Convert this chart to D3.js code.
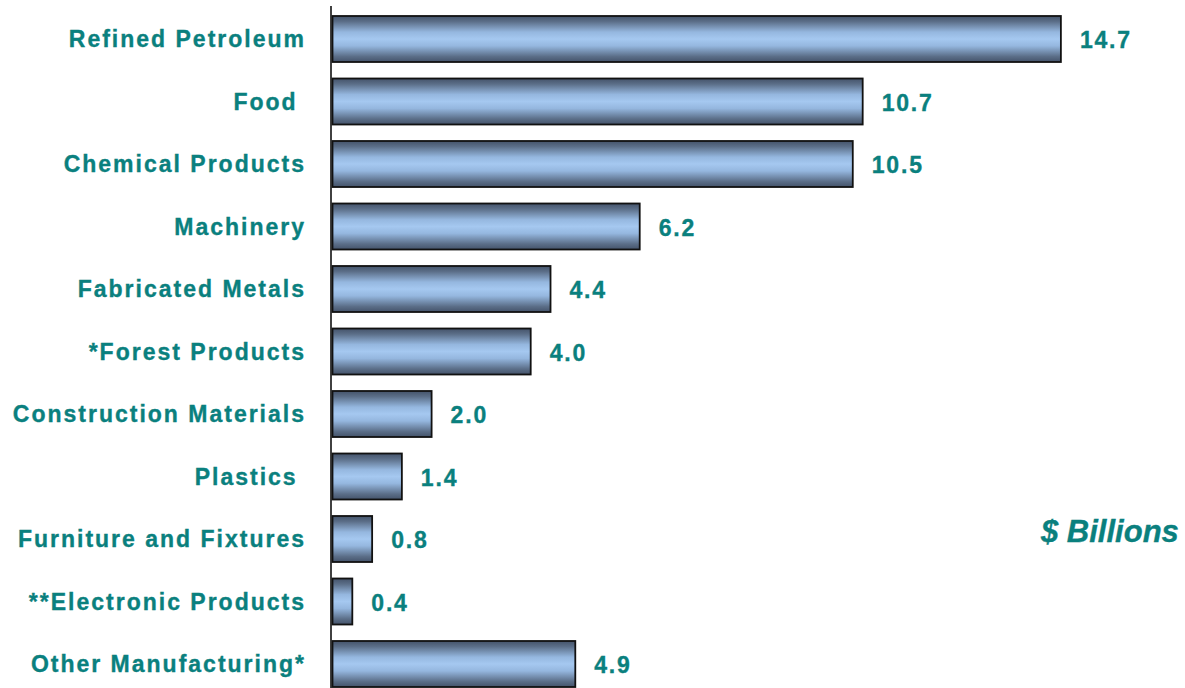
<!DOCTYPE html>
<html><head><meta charset="utf-8">
<script src="https://cdn.jsdelivr.net/npm/d3@7"></script>
<style>
html,body{margin:0;padding:0;background:#fff;}
svg{display:block;}
text{font-family:"Liberation Sans",Arial,sans-serif;font-weight:bold;fill:#0a807e;white-space:pre;stroke:#0a807e;stroke-width:0.35px;}
</style></head>
<body>
<svg id="chart" width="1185" height="688"></svg>
<script>
const categories = ["Refined Petroleum","Food ","Chemical Products","Machinery","Fabricated Metals","*Forest Products","Construction Materials","Plastics ","Furniture and Fixtures","**Electronic Products","Other Manufacturing*"];
const values = [14.7,10.7,10.5,6.2,4.4,4.0,2.0,1.4,0.8,0.4,4.9];
const valueLabels = ["14.7","10.7","10.5","6.2","4.4","4.0","2.0","1.4","0.8","0.4","4.9"];
const unitLabel = "$ Billions";

const svg = d3.select("#chart");
const W = 1185, H = 688;

const x = d3.scaleLinear().domain([0,15]).range([332.5, 332.5 + 49.55*15]);
const p = 0.264;
const y = d3.scaleBand().domain(categories).range([7.75, 695.25]).paddingInner(p).paddingOuter(p/2);

const defs = svg.append("defs");
const g = defs.append("linearGradient").attr("id","barGrad").attr("x1",0).attr("y1",0).attr("x2",0).attr("y2",1);
[[0,"#44536a"],[0.12,"#5b6e88"],[0.35,"#95b7df"],[0.5,"#a5c8f0"],[0.65,"#95b7df"],[0.88,"#5b6e88"],[1,"#44536a"]]
  .forEach(([o,c])=>g.append("stop").attr("offset",o).attr("stop-color",c));

svg.selectAll("rect.bar").data(values).join("rect")
  .attr("class","bar")
  .attr("x", x(0))
  .attr("y", (d,i)=>y(categories[i]))
  .attr("width", d=>x(d)-x(0))
  .attr("height", y.bandwidth())
  .attr("fill","url(#barGrad)")
  .attr("stroke","#111")
  .attr("stroke-width",1.8);

// axis line
svg.append("line").attr("x1",331).attr("x2",331).attr("y1",6).attr("y2",H)
  .attr("stroke","#111").attr("stroke-width",1.6);

svg.selectAll("text.cat").data(categories).join("text")
  .attr("class","cat")
  .attr("x",306)
  .attr("y",d=>y(d)+y.bandwidth()/2)
  .attr("dy","0.36em")
  .attr("text-anchor","end")
  .style("font-size","23px")
  .style("letter-spacing","2px")
  .text(d=>d);

svg.selectAll("text.val").data(values).join("text")
  .attr("class","val")
  .attr("x",d=>x(d)+19)
  .attr("y",(d,i)=>y(categories[i])+y.bandwidth()/2)
  .attr("dy","0.4em")
  .style("font-size","23px")
  .style("letter-spacing","1.8px")
  .text((d,i)=>valueLabels[i]);

svg.append("text").attr("x",1041).attr("y",542)
  .style("font-size","31px").style("font-style","italic")
  .text(unitLabel);
</script>
</body></html>
